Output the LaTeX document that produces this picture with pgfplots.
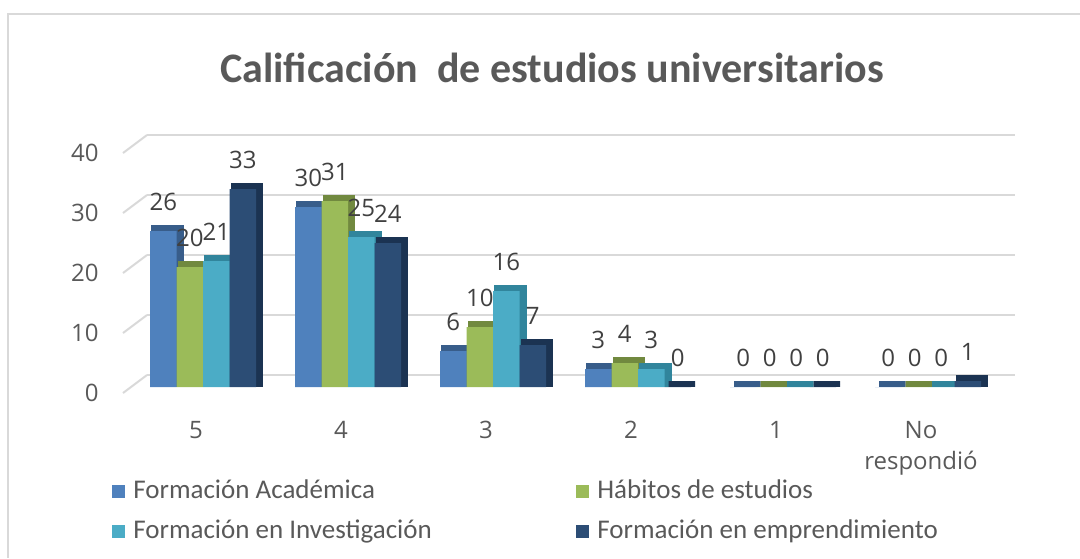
\documentclass[border=0pt]{standalone}
\usepackage{fontspec}
\setmainfont{Carlito}
\newfontfamily\osans{Open Sans}
\usepackage{pgfplots}
\usepackage{pgfplotstable}
\pgfplotsset{compat=1.18}

\definecolor{cA}{HTML}{4F81BD}\definecolor{cAd}{HTML}{385D8A}
\definecolor{cB}{HTML}{9BBB59}\definecolor{cBd}{HTML}{71893F}
\definecolor{cC}{HTML}{4BACC6}\definecolor{cCd}{HTML}{31859C}
\definecolor{cD}{HTML}{2C4D75}\definecolor{cDd}{HTML}{1B3352}
\definecolor{txt}{HTML}{595959}
\definecolor{lbl}{HTML}{404040}
\definecolor{gridc}{HTML}{D9D9D9}

% categorias: 0=5, 1=4, 2=3, 3=2, 4=1, 5=No respondio
\pgfplotstableread{
x acad habitos inv empr
0 26 20 21 33
1 30 31 25 24
2 6 10 16 7
3 3 4 3 0
4 0 0 0 0
5 0 0 0 1
}\datos

\begin{document}
\begin{tikzpicture}
\useasboundingbox (0,0) rectangle (540pt,279pt);
\draw[gridc, line width=1pt] (540pt,272pt) -- (4pt,272pt) -- (4pt,0pt);
\node[font=\bfseries\fontsize{21}{25}\selectfont, text=txt] at (276pt,245pt) {Calificación\ \ de estudios universitarios};

\begin{axis}[
  at={(65.25pt,85.5pt)}, anchor=south west,
  scale only axis, width=435pt, height=120pt,
  xmin=-0.5, xmax=5.5, ymin=0, ymax=40,
  ybar, bar width=13.25pt,
  clip=false,
  axis line style={draw=none},
  major tick length=0pt,
  xtick={0,...,5},
  xticklabels={5,4,3,2,1,{No\\respondió}},
  xticklabel style={font=\osans\fontsize{12}{15.5}\selectfont, text=txt, align=center, anchor=north, inner sep=0pt, yshift=-17pt, xshift=-3.5pt},
  ytick={0,10,...,40},
  yticklabel style={font=\osans\fontsize{12}{14}\selectfont, text=txt, anchor=east, inner sep=0pt, xshift=-15.75pt, yshift=-3pt},
  /pgf/number format/assume math mode=true,
  every node near coord/.append style={font=\osans\fontsize{12}{14}\selectfont, text=lbl, anchor=south, inner sep=0pt, yshift=10pt},
  legend columns=2,
  legend cell align=left,
  legend image code/.code={\fill[#1] (0pt,-3.25pt) rectangle (6.5pt,3.25pt);},
  legend style={at={(-0.0213,-0.379)}, anchor=north west, draw=none, fill=none,
    inner sep=0pt, column sep=0pt, row sep=7pt,
    nodes={inner sep=0pt, text height=10pt, text depth=3pt, font=\fontsize{13.5}{16}\selectfont, text=txt},
    /tikz/every odd column/.append style={column sep=4pt}},
]
% pared del fondo y lineas laterales
\pgfplotsinvokeforeach{0,10,20,30,40}{
  \draw[gridc, line width=1pt] ([xshift=8.25pt,yshift=6pt]axis cs:-0.5,#1) -- ([xshift=7.25pt,yshift=6pt]axis cs:5.5,#1);
  \draw[gridc, line width=1pt] ([xshift=-3.75pt,yshift=-3pt]axis cs:-0.5,#1) -- ([xshift=8.25pt,yshift=6pt]axis cs:-0.5,#1);
}
% caras laterales / superiores (efecto 3D)
\addplot[forget plot, fill=cAd, draw=cAd, line width=3pt, bar shift=-17.875pt, yshift=1.5pt] table[x=x,y=acad]{\datos};
\addplot[forget plot, fill=cBd, draw=cBd, line width=3pt, bar shift=-4.625pt, yshift=1.5pt] table[x=x,y=habitos]{\datos};
\addplot[forget plot, fill=cCd, draw=cCd, line width=3pt, bar shift=8.625pt, yshift=1.5pt] table[x=x,y=inv]{\datos};
\addplot[forget plot, fill=cDd, draw=cDd, line width=3pt, bar shift=21.875pt, yshift=1.5pt] table[x=x,y=empr]{\datos};
% caras frontales
\addplot[fill=cA, draw=none, bar shift=-19.875pt, nodes near coords] table[x=x,y=acad]{\datos};
\addlegendentry{\makebox[221.5pt][l]{Formación Académica}}
\addplot[fill=cB, draw=none, bar shift=-6.625pt, nodes near coords] table[x=x,y=habitos]{\datos};
\addlegendentry{Hábitos de estudios}
\addplot[fill=cC, draw=none, bar shift=6.625pt, nodes near coords] table[x=x,y=inv]{\datos};
\addlegendentry{\makebox[221.5pt][l]{Formación en Investigación}}
\addplot[fill=cD, draw=none, bar shift=19.875pt, nodes near coords] table[x=x,y=empr]{\datos};
\addlegendentry{Formación en emprendimiento}
\end{axis}
\end{tikzpicture}
\end{document}
